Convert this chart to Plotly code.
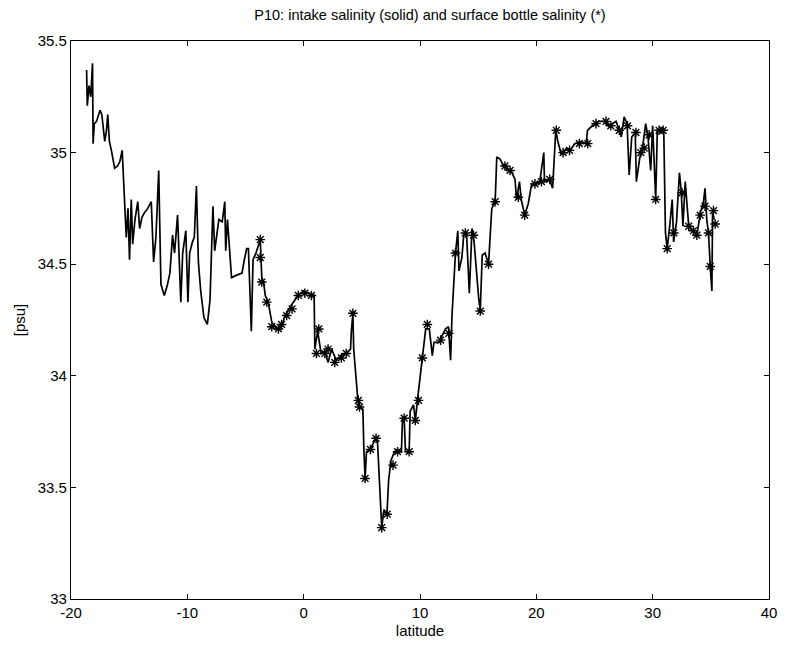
import plotly.graph_objects as go

# Intake (underway) salinity along the P10 section
intake_lat = [
    -18.66, -18.6, -18.45, -18.3, -18.15, -18.1, -18.0, -17.8, -17.5, -17.35,
    -17.1, -16.95, -16.84, -16.7, -16.53, -16.4, -16.25, -16.0, -15.8, -15.6,
    -15.5, -15.35, -15.25, -15.1, -14.97, -14.82, -14.7, -14.5, -14.26, -14.1,
    -13.9, -13.7, -13.4, -13.1, -12.9, -12.7, -12.46, -12.27, -11.98, -11.7,
    -11.5, -11.27, -11.1, -10.84, -10.56, -10.4, -10.13, -9.95, -9.8, -9.56,
    -9.4, -9.22, -9.05, -8.85, -8.57, -8.28, -8.05, -7.8, -7.65, -7.29,
    -7.0, -6.78, -6.7, -6.55, -6.2, -5.8, -5.3, -5.1, -4.9, -4.75,
    -4.5, -4.35, -4.1, -3.73, -3.6, -3.45, -3.3, -3.05, -2.74, -2.3,
    -1.9, -1.6, -1.03, -0.46, 0.0, 0.39, 0.9, 0.96, 1.2, 1.5,
    1.82, 2.1, 2.4, 2.8, 3.2, 3.66, 4.03, 4.1, 4.23, 4.3,
    4.66, 4.8, 5.09, 5.17, 5.28, 5.4, 5.74, 6.0, 6.22, 6.35,
    6.71, 6.9, 7.16, 7.3, 7.5, 7.8, 8.07, 8.4, 8.5, 8.64,
    8.75, 9.07, 9.15, 9.44, 9.6, 9.78, 10.2, 10.49, 10.8, 11.06,
    11.2, 11.63, 11.9, 12.2, 12.45, 12.63, 12.75, 12.9, 13.05, 13.25,
    13.35, 13.6, 13.76, 14.0, 14.24, 14.47, 14.65, 15.04, 15.18, 15.35,
    15.6, 15.89, 16.17, 16.46, 16.6, 16.9, 17.17, 17.6, 17.9, 18.17,
    18.3, 18.55, 18.7, 19.0, 19.3, 19.6, 19.9, 20.3, 20.64, 20.7,
    21.15, 21.4, 21.5, 21.67, 21.85, 22.15, 22.6, 22.9, 23.3, 23.86,
    24.28, 24.4, 25.0, 25.4, 25.85, 26.2, 26.56, 26.85, 27.13, 27.3,
    27.55, 27.8, 27.98, 28.2, 28.5, 28.6, 28.9, 29.1, 29.4, 29.6,
    29.83, 30.0, 30.26, 30.4, 30.83, 30.95, 31.1, 31.25, 31.5, 31.68,
    31.8, 32.05, 32.3, 32.45, 32.6, 32.8, 33.1, 33.4, 33.8, 34.1,
    34.37, 34.5, 34.65, 34.8, 34.95, 35.09, 35.15, 35.3,
]
intake_sal = [
    35.37, 35.21, 35.30, 35.25, 35.40, 35.04, 35.13, 35.14, 35.19, 35.17,
    35.05, 35.10, 35.17, 35.05, 35.01, 34.97, 34.93, 34.94, 34.96, 35.01,
    34.90, 34.78, 34.62, 34.75, 34.52, 34.79, 34.59, 34.70, 34.78, 34.66,
    34.71, 34.73, 34.75, 34.78, 34.51, 34.62, 34.92, 34.41, 34.36, 34.41,
    34.46, 34.63, 34.55, 34.72, 34.33, 34.55, 34.65, 34.33, 34.55, 34.60,
    34.62, 34.85, 34.51, 34.38, 34.26, 34.23, 34.34, 34.76, 34.56, 34.70,
    34.69, 34.78, 34.56, 34.70, 34.44, 34.45, 34.46, 34.52, 34.57, 34.57,
    34.20, 34.52, 34.55, 34.61, 34.44, 34.42, 34.36, 34.33, 34.24, 34.21,
    34.22, 34.27, 34.32, 34.36, 34.38, 34.37, 34.36, 34.12, 34.20, 34.10,
    34.11, 34.06, 34.12, 34.07, 34.09, 34.10, 34.12, 34.20, 34.28, 34.12,
    33.89, 33.86, 33.85, 33.68, 33.54, 33.66, 33.67, 33.70, 33.72, 33.70,
    33.32, 33.40, 33.38, 33.53, 33.62, 33.66, 33.67, 33.66, 33.81, 33.81,
    33.66, 33.66, 33.84, 33.87, 33.80, 33.89, 34.08, 34.21, 34.21, 34.09,
    34.15, 34.15, 34.18, 34.21, 34.22, 34.07, 34.27, 34.40, 34.55, 34.65,
    34.47, 34.53, 34.63, 34.64, 34.37, 34.66, 34.60, 34.35, 34.29, 34.54,
    34.55, 34.50, 34.75, 34.78, 34.98, 34.97, 34.94, 34.92, 34.91, 34.88,
    34.79, 34.87, 34.79, 34.72, 34.77, 34.86, 34.86, 34.87, 35.00, 34.87,
    34.88, 34.84, 34.96, 35.10, 35.05, 34.99, 35.02, 35.01, 35.04, 35.05,
    35.04, 35.10, 35.13, 35.14, 35.14, 35.12, 35.13, 35.14, 35.10, 35.07,
    35.16, 35.13, 34.90, 35.07, 35.09, 34.87, 34.98, 35.01, 35.13, 35.07,
    34.92, 35.12, 34.79, 35.10, 35.10, 35.11, 34.64, 34.57, 34.69, 34.79,
    34.60, 34.69, 34.91, 34.83, 34.67, 34.87, 34.67, 34.65, 34.63, 34.73,
    34.78, 34.84, 34.70, 34.64, 34.49, 34.38, 34.73, 34.70,
]

# Surface bottle salinity samples
bottle_lat = [
    -3.73, -3.73, -3.6, -3.17, -2.74, -2.17, -1.9, -1.46, -1.0, -0.46,
    0.1, 0.67, 1.1, 1.3, 1.82, 2.1, 2.67, 3.24, 3.66, 4.23,
    4.7, 4.8, 5.28, 5.74, 6.22, 6.71, 7.18, 7.68, 8.07, 8.64,
    9.07, 9.6, 9.87, 10.2, 10.63, 11.77, 12.48, 13.05, 13.9, 14.6,
    15.18, 15.89, 16.46, 17.3, 17.74, 18.45, 19.0, 19.88, 20.44, 21.15,
    21.72, 22.3, 22.85, 23.7, 24.42, 25.13, 25.99, 26.4, 27.13, 27.84,
    28.56, 28.98, 29.27, 29.7, 30.26, 30.55, 30.9, 31.25, 31.82, 32.53,
    33.1, 33.5, 33.8, 34.08, 34.5, 34.8, 34.95, 35.23, 35.37,
]
bottle_sal = [
    34.61, 34.53, 34.42, 34.33, 34.22, 34.21, 34.23, 34.27, 34.30, 34.36,
    34.37, 34.36, 34.10, 34.21, 34.10, 34.12, 34.06, 34.08, 34.10, 34.28,
    33.89, 33.86, 33.54, 33.67, 33.72, 33.32, 33.38, 33.60, 33.66, 33.81,
    33.66, 33.80, 33.89, 34.08, 34.23, 34.16, 34.19, 34.55, 34.64, 34.63,
    34.29, 34.50, 34.78, 34.94, 34.92, 34.80, 34.72, 34.86, 34.87, 34.88,
    35.10, 35.00, 35.01, 35.04, 35.04, 35.13, 35.14, 35.12, 35.10, 35.12,
    35.09, 35.00, 35.02, 35.08, 34.79, 35.10, 35.10, 34.57, 34.64, 34.82,
    34.67, 34.65, 34.63, 34.72, 34.76, 34.64, 34.49, 34.74, 34.68,
]

x_ticks = [-20, -10, 0, 10, 20, 30, 40]
x_tick_text = ["-20", "-10", "0", "10", "20", "30", "40"]
y_ticks = [33, 33.5, 34, 34.5, 35, 35.5]
y_tick_text = ["33", "33.5", "34", "34.5", "35", "35.5"]

font_family = "Liberation Sans, Arial, sans-serif"

fig = go.Figure()
fig.add_trace(go.Scatter(
    x=intake_lat, y=intake_sal, mode="lines",
    line=dict(color="black", width=1.7),
    name="intake", showlegend=False,
))
fig.add_trace(go.Scatter(
    x=bottle_lat, y=bottle_sal, mode="markers",
    marker=dict(symbol="asterisk-open", size=8, color="black",
                line=dict(color="black", width=1.4)),
    name="bottle", showlegend=False,
))

axis_common = dict(
    showgrid=False, zeroline=False, showline=True, linecolor="black",
    linewidth=1.2, mirror="ticks", ticks="inside", ticklen=5,
    tickcolor="black", tickwidth=1,
    tickfont=dict(family=font_family, size=15, color="black"),
)

fig.update_layout(
    width=789, height=649,
    margin=dict(l=71, r=15, t=41, b=47),
    paper_bgcolor="white", plot_bgcolor="white",
    title=dict(
        text="P10: intake salinity (solid) and surface bottle salinity (*)",
        x=0.545, xanchor="center", y=0.977, yanchor="middle",
        font=dict(family=font_family, size=14.5, color="black"),
    ),
    xaxis=dict(
        range=[-20, 40], tickvals=x_ticks, ticktext=x_tick_text,
        title=dict(text="latitude", standoff=5,
                   font=dict(family=font_family, size=15, color="black")),
        **axis_common,
    ),
    yaxis=dict(
        range=[33, 35.5], tickvals=y_ticks, ticktext=y_tick_text,
        title=dict(text="[psu]", standoff=8,
                   font=dict(family=font_family, size=15, color="black")),
        **axis_common,
    ),
)

fig.write_html("out.html")
